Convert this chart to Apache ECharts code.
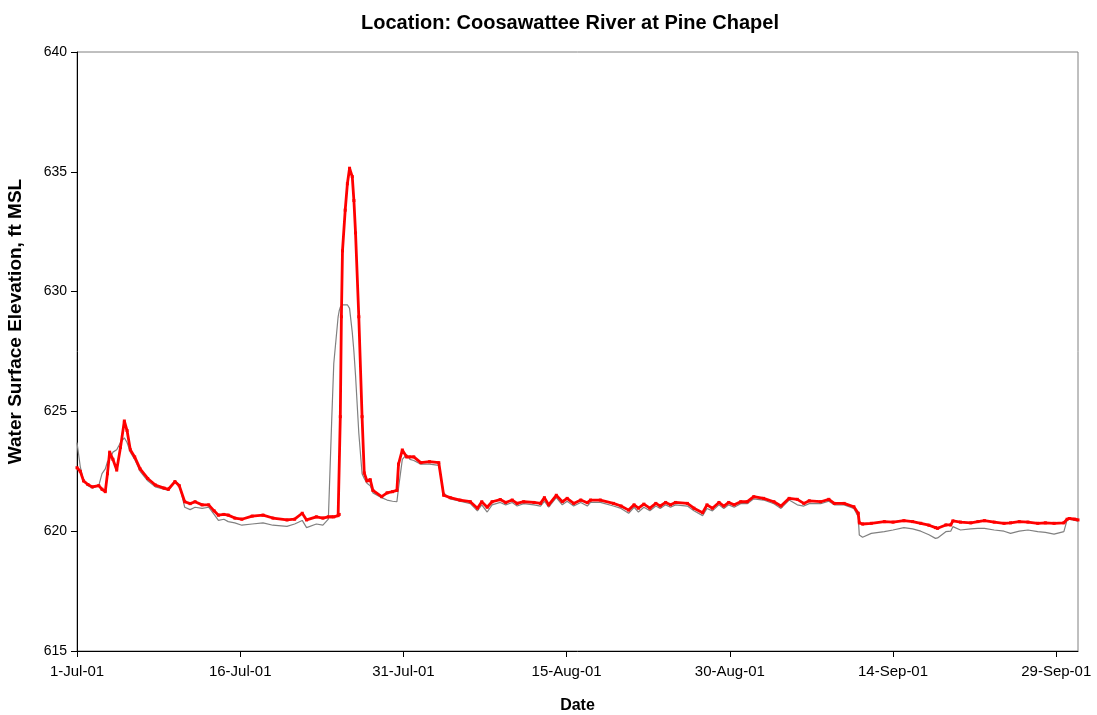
<!DOCTYPE html>
<html>
<head>
<meta charset="utf-8">
<script src="https://cdn.jsdelivr.net/npm/echarts@6/dist/echarts.min.js"></script>
<style>html,body{margin:0;padding:0;background:#fff}#c{width:1097px;height:715px}</style>
</head>
<body>
<div id="c"></div>
<script>
// Days since 1-Jul-2001
var days = [0,0.3,0.6,1.0,1.4,2.0,2.3,2.6,2.8,3.0,3.3,3.65,4.0,4.35,4.6,4.9,5.3,5.8,6.5,7.2,8.0,8.4,9.0,9.4,9.9,10.4,10.85,11.5,12.1,12.6,13.0,13.5,13.9,14.5,15.15,16.1,17.1,18.0,19.3,20.0,20.7,21.1,22.0,22.6,23.1,23.4,23.6,24.0,24.1,24.2,24.3,24.4,24.65,24.85,25.05,25.3,25.45,25.6,25.9,26.2,26.4,26.65,26.95,27.2,28.0,28.5,29.0,29.4,29.55,29.9,30.3,30.6,30.95,31.6,32.4,33.25,33.7,34.3,35.2,36.15,36.8,37.2,37.7,38.15,38.9,39.4,40.0,40.45,41.05,42.0,42.6,42.96,43.35,44.05,44.6,45.05,45.65,46.3,46.9,47.2,48.1,49.3,50.0,50.7,51.2,51.6,52.1,52.65,53.2,53.6,54.1,54.55,55.0,56.1,56.7,57.5,57.9,58.4,59.0,59.45,59.9,60.4,61.0,61.6,62.2,63.1,64.05,64.7,65.45,66.2,66.8,67.3,68.35,69.1,69.6,70.5,71.4,71.8,71.9,72.2,73.0,74.2,75.0,76.0,76.8,77.55,78.3,78.9,79.1,79.85,80.3,80.5,81.2,82.15,82.8,83.4,84.3,85.2,85.8,86.6,87.4,88.3,89.0,89.8,90.7,91.0,91.2,91.7,92.0];
var redSeries = [622.65,622.5,622.1,621.95,621.85,621.9,621.75,621.65,622.4,623.3,623.0,622.55,623.5,624.6,624.2,623.4,623.1,622.6,622.2,621.93,621.8,621.75,622.07,621.9,621.23,621.15,621.23,621.1,621.1,620.85,620.67,620.7,620.67,620.55,620.5,620.63,620.67,620.55,620.47,620.5,620.75,620.47,620.6,620.55,620.6,620.6,620.6,620.65,620.7,624.78,628.95,631.7,633.4,634.5,635.15,634.8,633.8,632.45,628.95,624.78,622.43,622.1,622.15,621.7,621.44,621.6,621.65,621.7,622.8,623.39,623.1,623.1,623.1,622.86,622.9,622.86,621.5,621.4,621.3,621.23,620.96,621.23,621.0,621.23,621.32,621.2,621.3,621.16,621.23,621.2,621.16,621.4,621.1,621.5,621.23,621.37,621.16,621.3,621.19,621.3,621.3,621.16,621.05,620.88,621.1,620.96,621.13,620.96,621.16,621.05,621.2,621.1,621.2,621.16,620.96,620.77,621.1,620.96,621.2,621.05,621.2,621.1,621.23,621.23,621.44,621.37,621.23,621.05,621.37,621.33,621.16,621.27,621.23,621.33,621.16,621.16,621.02,620.75,620.35,620.3,620.33,620.4,620.38,620.44,620.4,620.33,620.25,620.15,620.12,620.26,620.26,620.43,620.38,620.35,620.4,620.44,620.38,620.33,620.35,620.4,620.38,620.33,620.35,620.33,620.35,620.5,620.53,620.5,620.47];
var graySeries = [623.7,622.7,622.1,621.9,621.8,621.9,622.4,622.6,622.9,623.0,623.3,623.4,623.7,623.9,623.7,623.3,623.0,622.5,622.1,621.85,621.75,621.7,622.1,621.95,621.0,620.9,621.0,620.95,621.0,620.7,620.45,620.5,620.4,620.35,620.25,620.3,620.35,620.25,620.2,620.3,620.45,620.15,620.3,620.25,620.5,624.5,627.0,628.95,629.2,629.35,629.4,629.45,629.45,629.45,629.3,628.3,627.5,626.5,624.1,622.4,622.2,622.0,621.9,621.6,621.4,621.3,621.25,621.23,621.8,623.0,623.2,623.0,622.95,622.8,622.8,622.75,621.6,621.35,621.25,621.15,620.85,621.1,620.8,621.1,621.2,621.1,621.2,621.05,621.15,621.1,621.05,621.25,621.0,621.4,621.1,621.25,621.05,621.2,621.05,621.2,621.2,621.05,620.95,620.75,621.0,620.8,621.0,620.85,621.05,620.95,621.1,621.0,621.1,621.05,620.85,620.65,620.95,620.85,621.1,620.95,621.1,621.0,621.15,621.15,621.35,621.3,621.15,620.95,621.3,621.1,621.05,621.15,621.15,621.25,621.1,621.1,620.95,620.6,619.84,619.75,619.91,619.98,620.05,620.15,620.1,620.0,619.85,619.7,619.72,619.98,620.0,620.19,620.05,620.1,620.12,620.12,620.05,620.0,619.91,620.0,620.05,619.98,619.95,619.88,619.98,620.47,620.5,620.45,620.42];
var yTicks = [615,620,625,630,635,640];
var monthNames = ['Jan','Feb','Mar','Apr','May','Jun','Jul','Aug','Sep','Oct','Nov','Dec'];

function dayLabel(d){
  var dt = new Date(Date.UTC(2001,6,1) + Math.round(d)*86400000);
  return dt.getUTCDate() + '-' + monthNames[dt.getUTCMonth()] + '-' + String(dt.getUTCFullYear()).slice(2);
}
function pairs(xs, ys){ return xs.map(function(x,i){ return [x, ys[i]]; }); }

var font = 'Liberation Sans, Arial, sans-serif';
var chart = echarts.init(document.getElementById('c'), null, {renderer:'canvas'});
chart.setOption({
  animation: false,
  backgroundColor: '#fff',
  title: {
    text: 'Location: Coosawattee River at Pine Chapel',
    left: 565, top: 8, textAlign: 'center',
    textStyle: {fontFamily: font, fontSize: 20, fontWeight: 'bold', color: '#000'}
  },
  grid: {left: 77, right: 19, top: 52, bottom: 64, show: true, borderColor: '#808080', borderWidth: 1, backgroundColor: '#fff', containLabel: false, outerBoundsMode: 'none'},
  xAxis: {
    type: 'value', min: 0, max: 92, interval: 15,
    name: 'Date', nameLocation: 'middle', nameGap: 47,
    nameTextStyle: {fontFamily: font, fontSize: 16, fontWeight: 'bold', color: '#000'},
    axisLine: {show: true, lineStyle: {color: '#000', width: 1}},
    axisTick: {show: true, length: 6, lineStyle: {color: '#000'}},
    axisLabel: {formatter: dayLabel, fontFamily: font, fontSize: 15, color: '#000', margin: 13, showMaxLabel: false},
    splitLine: {show: false}
  },
  yAxis: {
    type: 'value', min: yTicks[0], max: yTicks[yTicks.length-1], interval: 5,
    name: 'Water Surface Elevation, ft MSL', nameLocation: 'middle', nameGap: 52,
    nameTextStyle: {fontFamily: font, fontSize: 19, fontWeight: 'bold', color: '#000', padding: [0, 0, 0, 60]},
    axisLine: {show: true, lineStyle: {color: '#000', width: 1}},
    axisTick: {show: true, length: 6, lineStyle: {color: '#000'}},
    axisLabel: {fontFamily: font, fontSize: 14, color: '#000', margin: 10},
    splitLine: {show: false}
  },
  series: [
    {name: 'Gray', type: 'line', data: pairs(days, graySeries), showSymbol: false,
     lineStyle: {color: '#808080', width: 1.2}, z: 2},
    {name: 'Red', type: 'line', data: pairs(days, redSeries), symbol: 'rect', symbolSize: 3, showSymbol: true,
     itemStyle: {color: '#ff0000'}, lineStyle: {color: '#ff0000', width: 2.8}, z: 3}
  ]
});
</script>
</body>
</html>
